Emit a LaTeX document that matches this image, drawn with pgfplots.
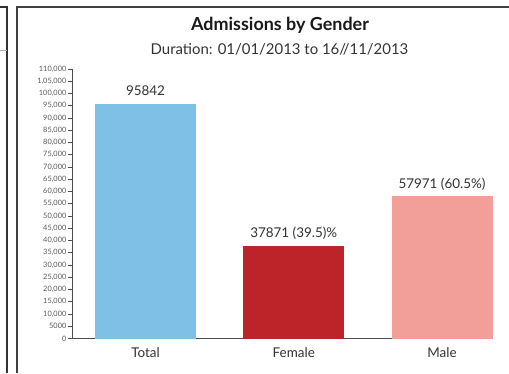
\documentclass[border=0pt]{standalone}
\usepackage{pgfplots}
\pgfplotsset{compat=1.18}
\usepackage{fontspec}
\setmainfont{Lato}
\definecolor{cTotal}{HTML}{7EC0E6}
\definecolor{cFemale}{HTML}{BC2429}
\definecolor{cMale}{HTML}{F29E99}
\definecolor{txt}{HTML}{333333}
\begin{document}
\begin{tikzpicture}[x=1bp,y=1bp]
\useasboundingbox (0,0) rectangle (509,373);
\fill[white] (0,0) rectangle (509,373);
\draw[line width=1.2bp, black!80] (0,366) -- (7,366) -- (7,0);
\draw[line width=1bp, gray!60] (0,323) -- (7,323);
\draw[line width=1.5bp, black!75] (17,0) -- (17,366) -- (509,366);
\node[font=\bfseries\fontsize{18}{21}\selectfont, text=black!90, anchor=base] at (280,343) {Admissions by Gender};
\node[font=\fontsize{15}{18}\selectfont, text=txt, anchor=base] at (279.5,319) {Duration: 01/01/2013 to 16//11/2013};
\begin{axis}[
  at={(72bp,34.5bp)}, anchor=south west,
  scale only axis, width=421bp, height=269.5bp,
  xmin=-0.496, xmax=2.344, ymin=0, ymax=110000,
  scaled y ticks=false,
  axis x line*=bottom, axis y line*=left,
  axis line style={black!70, line width=0.8bp},
  tick align=outside, major tick length=4bp,
  ytick={0,5000,...,110000},
  yticklabels={{0},{5000},{10,000},{15,000},{20,000},{25,000},{30,000},{35,000},{40,000},{45,000},{50,000},{55,000},{60,000},{65,000},{70,000},{75,000},{80,000},{85,000},{90,000},{95,000},{100,000},{1,05,000},{110,000}},
  ytick style={black!70, line width=0.6bp},
  y tick label style={font=\fontsize{7.4}{8}\selectfont, text=black!65, inner sep=1.5bp},
  xtick={0,1,2}, xticklabels={Total,Female,Male},
  xtick style={draw=none},
  x tick label style={font=\fontsize{13.5}{15}\selectfont, text=txt, yshift=-2bp},
  ybar, bar width=101bp,
  every node near coord/.append style={font=\fontsize{13.5}{15}\selectfont, text=txt, anchor=base, yshift=8bp},
  clip=false,
]
\addplot[fill=cTotal, draw=none, bar shift=0pt, nodes near coords={95842}] coordinates {(0,95842)};
\addplot[fill=cFemale, draw=none, bar shift=0pt, nodes near coords={37871 (39.5)\%}] coordinates {(1,37871)};
\addplot[fill=cMale, draw=none, bar shift=0pt, nodes near coords={57971 (60.5\%)}] coordinates {(2,57971)};
\end{axis}
\end{tikzpicture}
\end{document}
